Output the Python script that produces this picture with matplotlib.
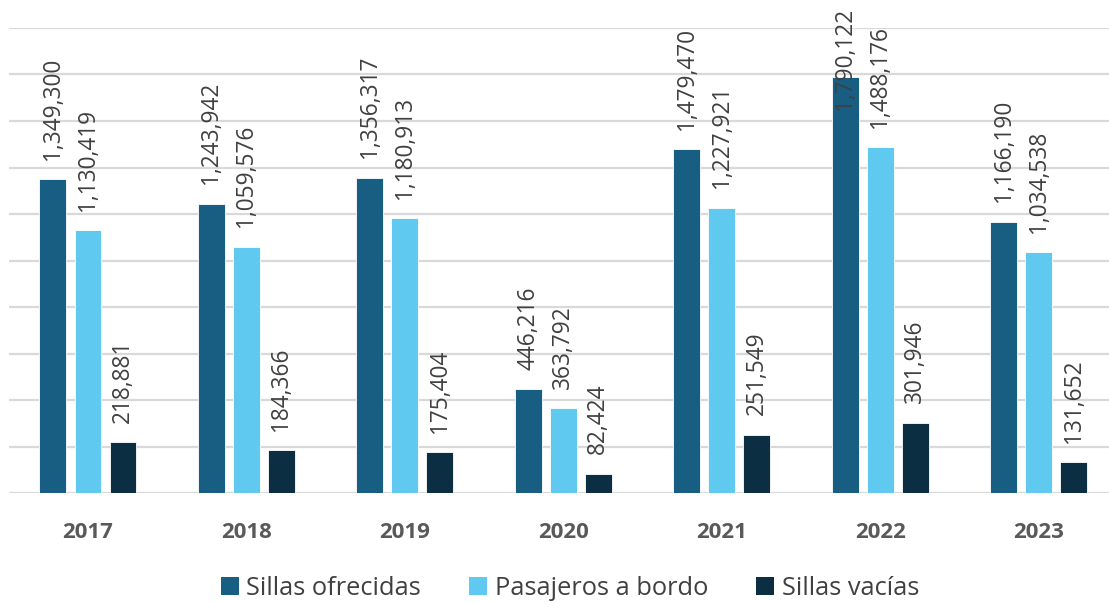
import matplotlib.pyplot as plt
import numpy as np

years = ['2017', '2018', '2019', '2020', '2021', '2022', '2023']
sillas_ofrecidas = [1349300, 1243942, 1356317, 446216, 1479470, 1790122, 1166190]
pasajeros_bordo = [1130419, 1059576, 1180913, 363792, 1227921, 1488176, 1034538]
sillas_vacias = [218881, 184366, 175404, 82424, 251549, 301946, 131652]
series_names = ['Sillas ofrecidas', 'Pasajeros a bordo', 'Sillas vacías']
colors = ['#175E82', '#5FC9F0', '#0C2E42']

plt.rcParams['font.family'] = ['Open Sans', 'DejaVu Sans']

fig = plt.figure(figsize=(11.09, 6.02), dpi=100)
ax = fig.add_axes([0.0079, 0.181, 1.0, 0.7725])

x = np.arange(len(years))
offsets = [-0.221, 0.0, 0.221]
width = 0.17
labels = []
for vals, name, color, off in zip([sillas_ofrecidas, pasajeros_bordo, sillas_vacias],
                                  series_names, colors, offsets):
    bars = ax.bar(x + off, vals, width, color=color, label=name,
                  edgecolor='white', linewidth=0.6, zorder=3)
    for b, v in zip(bars, vals):
        t = ax.annotate(f'{v:,}', (b.get_x() + b.get_width() / 2, v),
                        xytext=(0, 14), textcoords='offset points',
                        rotation=90, ha='center', va='bottom',
                        fontsize=16.3, color='#404040', zorder=4,
                        annotation_clip=False)
        labels.append(t)

ax.set_xlim(-0.5, len(years) - 0.5)
ax.set_ylim(0, 2000000)
ax.set_yticks(np.arange(0, 2000001, 200000))
ax.yaxis.grid(True, color='#D9D9D9', linewidth=1.6, zorder=0)
ax.set_axisbelow(True)
for s in ax.spines.values():
    s.set_visible(False)
ax.tick_params(axis='y', left=False, labelleft=False)
ax.tick_params(axis='x', bottom=False, pad=17)
ax.set_xticks(x)
ax.set_xticklabels(years, fontsize=16, fontweight='bold', color='#595959')

# push labels that would run off the top back inside the picture
fig.canvas.draw()
fig_h = fig.get_size_inches()[1] * fig.dpi
for t in labels:
    bb = t.get_window_extent()
    if bb.y1 > fig_h - 8:
        shift = (bb.y1 - (fig_h - 8)) * 72 / fig.dpi
        t.xyann = (0, 14 - shift)

leg = fig.legend(loc='center', bbox_to_anchor=(0.514, 0.022), ncol=3,
                 frameon=False, fontsize=18.3, handlelength=0.7, handleheight=0.7,
                 handletextpad=0.3, columnspacing=1.9, labelcolor='#404040')
for h in leg.legend_handles:
    h.set_linewidth(0)

fig.savefig('out.png', dpi=100)
